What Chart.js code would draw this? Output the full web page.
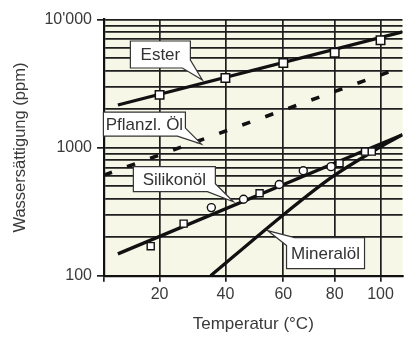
<!DOCTYPE html>
<html>
<head>
<meta charset="utf-8">
<script src="https://cdn.jsdelivr.net/npm/chart.js@4.4.1/dist/chart.umd.min.js"></script>
<style>
  html, body { margin: 0; padding: 0; background: #fff; }
  #wrap { width: 410px; height: 338px; }
</style>
</head>
<body>
<div id="wrap"><canvas id="chart" width="410" height="338"></canvas></div>
<script>
// temperatures in °C, saturation in ppm
const xTicks = [20, 40, 60, 80, 100];
const xMin = 5;
const xMax = 110.4;

const yTickValues = [100, 1000, 10000];
const yTickLabels = ['100', '1000', "10'000"];
const yGridValues = [100, 200, 300, 400, 500, 600, 700, 800, 900,
                     1000, 2000, 3000, 4000, 5000, 6000, 7000, 8000, 9000, 10000];

const esterTemps = [20, 40, 60, 80, 100];
const esterValues = [2580, 3500, 4580, 5500, 6900];
const esterFitTemps = [8.6, 110.4];
const esterFitValues = [2150, 8000];

const pflanzTemps = [5, 110.4];
const pflanzValues = [610, 4260];

const silikonTemps = [17.5, 27, 35.5, 46, 51.5, 58.5, 67.5, 78.5, 82, 93, 96];
const silikonValues = [170, 255, 340, 395, 440, 515, 660, 710, 755, 930, 930];
const silikonStyles = ['rect', 'rect', 'circle', 'circle', 'rect', 'circle', 'circle', 'circle', 'rect', 'rect', 'rect'];
const silikonFitTemps = [8.6, 110.4];
const silikonFitValues = [148, 1260];

const mineralTemps = [35.3, 59.6, 79.1, 99.8, 110.4];
const mineralValues = [100, 294, 593, 1010, 1260];

const FONT = '"Liberation Sans", Arial, sans-serif';
const TEXT = '#3a3a3a';
const GRID = '#1e1e1e';
const INK = '#111';

// x axis is reciprocal absolute temperature (Arrhenius plot)
const inv = t => 1000 / (t + 273.15);
const toPoints = (temps, values) => temps.map((t, i) => ({ x: inv(t), y: values[i] }));

// callout labels: tip in data units, box offset in px from tip
const callouts = [
    { text: 'Ester', tipT: 32.7, tipV: 3370, box: [-72, -39, -12, -12], corner: 2 },
    { text: 'Pflanzl. Öl', tipT: 32.4, tipV: 1065, box: [-98, -32, -16, -8], corner: 2 },
    { text: 'Silikonöl', tipT: 42.6, tipV: 378, box: [-100, -35, -18, -10], corner: 2 },
    { text: 'Mineralöl', tipT: 54.3, tipV: 225, box: [19, 7, 97, 38], corner: 0 }
];

const plotBackground = {
    id: 'plotBackground',
    beforeDraw(chart) {
        const { ctx, chartArea: a } = chart;
        ctx.save();
        ctx.fillStyle = '#fff';
        ctx.fillRect(0, 0, chart.width, chart.height);
        ctx.fillStyle = '#f7f7e8';
        ctx.fillRect(a.left, a.top, a.right - a.left, a.bottom - a.top);
        ctx.restore();
    }
};

const calloutLabels = {
    id: 'calloutLabels',
    afterDatasetsDraw(chart) {
        const { ctx, scales } = chart;
        ctx.save();
        callouts.forEach(c => {
            const tx = scales.x.getPixelForValue(inv(c.tipT));
            const ty = scales.y.getPixelForValue(c.tipV);
            const [x1, y1, x2, y2] = [tx + c.box[0], ty + c.box[1], tx + c.box[2], ty + c.box[3]];
            const corners = [[x1, y1], [x2, y1], [x2, y2], [x1, y2]];
            const path = [];
            corners.forEach((p, i) => {
                if (i !== c.corner) { path.push(p); return; }
                const prev = corners[(i + 3) % 4];
                const next = corners[(i + 1) % 4];
                const step = (q) => {
                    const dx = q[0] - p[0], dy = q[1] - p[1];
                    const len = Math.hypot(dx, dy);
                    return [p[0] + dx / len * 8, p[1] + dy / len * 8];
                };
                path.push(step(prev), [tx, ty], step(next));
            });
            ctx.beginPath();
            path.forEach((p, i) => i ? ctx.lineTo(p[0], p[1]) : ctx.moveTo(p[0], p[1]));
            ctx.closePath();
            ctx.fillStyle = '#fff';
            ctx.fill();
            ctx.strokeStyle = '#333';
            ctx.lineWidth = 1.2;
            ctx.stroke();

            ctx.fillStyle = '#333';
            ctx.font = '17px ' + FONT;
            ctx.textAlign = 'center';
            ctx.textBaseline = 'middle';
            ctx.fillText(c.text, (x1 + x2) / 2, (y1 + y2) / 2 + 1);
        });
        ctx.restore();
    }
};

new Chart(document.getElementById('chart'), {
    type: 'line',
    data: {
        datasets: [
            {
                data: toPoints(esterTemps, esterValues),
                showLine: false,
                pointStyle: 'rect',
                pointRadius: 6,
                pointBackgroundColor: '#fff',
                pointBorderColor: INK,
                pointBorderWidth: 1.5
            },
            {
                data: toPoints(silikonTemps, silikonValues),
                showLine: false,
                pointStyle: silikonStyles,
                pointRadius: silikonStyles.map(s => s === 'rect' ? 5 : 4),
                pointBackgroundColor: '#fff',
                pointBorderColor: INK,
                pointBorderWidth: 1.4
            },
            {
                data: toPoints(esterFitTemps, esterFitValues),
                borderColor: INK,
                borderWidth: 3.3,
                pointRadius: 0
            },
            {
                data: toPoints(pflanzTemps, pflanzValues),
                borderColor: INK,
                borderWidth: 3.6,
                borderDash: [8.5, 16],
                pointRadius: 0
            },
            {
                data: toPoints(silikonFitTemps, silikonFitValues),
                borderColor: INK,
                borderWidth: 3.3,
                pointRadius: 0
            },
            {
                data: toPoints(mineralTemps, mineralValues),
                borderColor: INK,
                borderWidth: 3.3,
                tension: 0.3,
                pointRadius: 0
            }
        ]
    },
    options: {
        responsive: false,
        animation: false,
        layout: { padding: { top: 19.5, right: 0, bottom: 0, left: 0 } },
        plugins: {
            legend: { display: false },
            tooltip: { enabled: false }
        },
        scales: {
            x: {
                type: 'linear',
                reverse: true,
                min: inv(xMax),
                max: inv(xMin),
                afterBuildTicks: s => { s.ticks = [xMin].concat(xTicks).map(t => ({ value: inv(t) })); },
                afterFit: s => { s.height = 62.3; },
                ticks: {
                    autoSkip: false,
                    maxRotation: 0,
                    padding: 3,
                    color: TEXT,
                    font: { family: FONT, size: 16 },
                    callback: v => {
                        const t = Math.round(1000 / v - 273.15);
                        return xTicks.includes(t) ? String(t) : '';
                    }
                },
                grid: { color: GRID, lineWidth: 1.7, tickLength: 6, tickWidth: 1.7, tickColor: GRID },
                border: { color: INK, width: 2.2 },
                title: {
                    display: true,
                    text: 'Temperatur (°C)',
                    color: TEXT,
                    font: { family: FONT, size: 17 },
                    padding: { top: 0, bottom: 3 }
                }
            },
            y: {
                type: 'logarithmic',
                min: 100,
                max: 10000,
                afterBuildTicks: s => { s.ticks = yGridValues.map(v => ({ value: v })); },
                afterFit: s => { s.width = 104; },
                ticks: {
                    autoSkip: false,
                    padding: 5,
                    color: TEXT,
                    font: { family: FONT, size: 16 },
                    callback: v => {
                        const i = yTickValues.indexOf(v);
                        return i >= 0 ? yTickLabels[i] : '';
                    }
                },
                grid: {
                    color: GRID,
                    lineWidth: 1.7,
                    tickLength: 7,
                    tickWidth: 1.7,
                    tickColor: c => yTickValues.includes(c.tick && c.tick.value) ? GRID : 'rgba(0,0,0,0)'
                },
                border: { color: INK, width: 2.2 },
                title: {
                    display: true,
                    text: 'Wassersättigung (ppm)',
                    color: TEXT,
                    font: { family: FONT, size: 16.5 },
                    padding: { top: 10.5, bottom: 0 }
                }
            }
        }
    },
    plugins: [plotBackground, calloutLabels]
});
</script>
</body>
</html>
